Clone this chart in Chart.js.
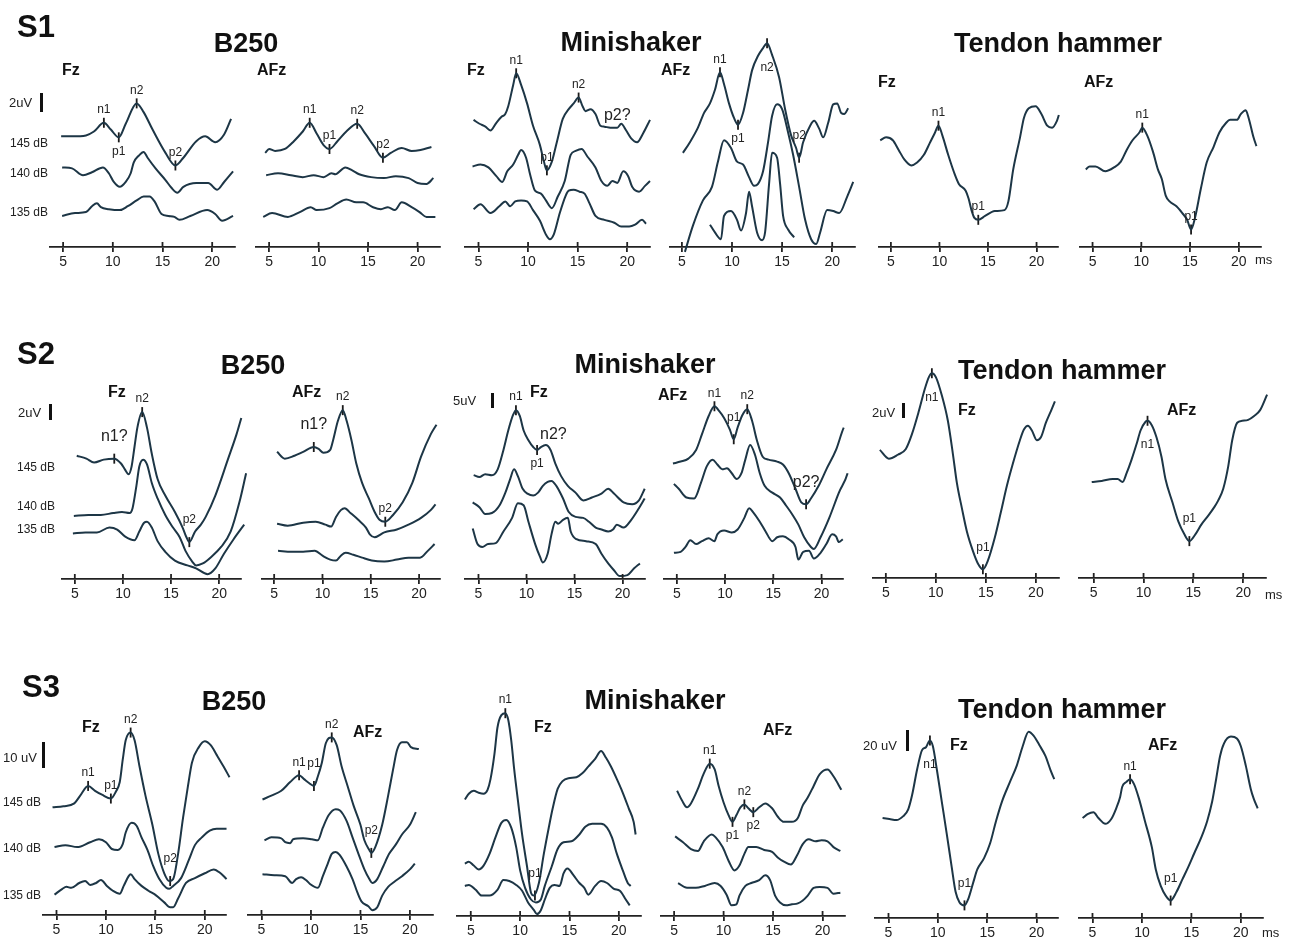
<!DOCTYPE html>
<html>
<head>
<meta charset="utf-8">
<script src="https://cdn.jsdelivr.net/npm/chart.js@4.4.1/dist/chart.umd.min.js"></script>
<style>
  body { margin: 0; width: 1290px; height: 942px; position: relative; overflow: hidden; background: #fff;
         font-family: "Liberation Sans", Arial, sans-serif; color: #111; }
  canvas { position: absolute; }
  .t { position: absolute; white-space: nowrap; line-height: 1; z-index: 2; }
  .big { font-weight: bold; font-size: 31px; }
  .title { font-weight: bold; font-size: 27px; }
  .ch { font-weight: bold; font-size: 16px; }
  .unit { font-size: 13px; color: #222; }
  .db { font-size: 12px; color: #222; }
  .bar { position: absolute; width: 3px; background: #111; }
</style>
</head>
<body>
<script>
// x ticks (ms) shared by every panel
const tickValues = [5, 10, 15, 20];

// traces: [latency ms, amplitude above the time axis (a.u.)]
// ---------- S1 ----------
const s1B250Fz145 = [[4.8,114],[5.9,114],[7.3,115],[8.1,119],[9.1,128],[9.8,121],[10.6,113],[11.3,127],[12.4,148],[13.1,139],[14,121],[15.3,97],[16.3,84],[17.1,92],[18.4,109],[19.3,114],[20.3,108],[21.2,116],[21.9,132]];
const s1B250Fz140 = [[4.9,82],[5.9,81],[7.0,74],[7.9,77],[9.0,82],[9.6,76],[10.1,67],[10.7,62],[11.3,67],[11.8,76],[12.1,87],[12.6,94],[13.1,98],[13.5,92],[14.3,81],[15.3,69],[15.9,61],[16.5,56],[17.1,62],[18.4,66],[19.6,66],[20.5,59],[21.2,67],[22.1,78]];
const s1B250Fz135 = [[4.9,32],[6.2,35],[7.3,36],[7.9,42],[8.4,45],[8.8,41],[9.6,39],[10.7,38],[11.5,42],[12.4,48],[13.1,52],[13.7,52],[14.2,47],[14.9,34],[15.6,32],[16.2,31],[16.7,28],[17.8,32],[19.5,38],[20.3,34],[21.0,27],[22.1,32]];
const s1B250FzMarks = [['n1',9.1,128,'up'],['p1',10.6,113,'down'],['n2',12.4,148,'up'],['p2',16.3,84,'up']];

const s1B250AFz145 = [[4.6,97],[5.0,101],[5.6,99],[6.6,101],[7.5,109],[8.4,119],[9.1,128],[9.8,117],[10.5,105],[11.1,101],[11.9,109],[12.8,119],[13.9,127],[14.7,117],[15.6,104],[16.5,92],[17.3,97],[18.4,102],[19.4,99],[20.3,100],[21.4,103]];
const s1B250AFz140 = [[4.7,74],[5.9,76],[7.2,74],[8.4,72],[9.5,74],[10.5,72],[11.3,76],[11.7,75],[12.7,82],[13.4,79],[14.1,75],[15.3,72],[16.6,71],[17.8,73],[19.1,71],[20.0,66],[20.9,65],[21.6,71]];
const s1B250AFz135 = [[4.4,31],[5.3,35],[6.9,31],[8.1,36],[9.2,41],[9.8,38],[11.1,40],[11.9,45],[12.8,49],[13.8,46],[14.5,46],[15.5,41],[16.3,39],[17.0,41],[17.7,38],[18.4,46],[19.4,41],[20.2,36],[20.9,31],[21.8,31]];
const s1B250AFzMarks = [['n1',9.1,128,'up'],['p1',11.1,101,'up'],['n2',13.9,127,'up'],['p2',16.5,92,'up']];

const s1MiniFz145 = [[4.5,131],[5.1,127],[5.7,124],[6.2,120],[6.8,128],[7.3,134],[7.7,137],[8.0,145],[8.5,167],[8.8,179],[9.3,167],[9.9,148],[10.5,125],[11.2,105],[11.6,88],[11.9,79],[12.4,88],[12.9,108],[13.5,132],[14.1,142],[14.6,148],[15.1,154],[15.5,145],[15.8,140],[16.3,142],[16.8,137],[17.3,125],[17.7,124],[18.3,123],[19.0,123],[19.4,127],[19.9,120],[20.4,112],[21.0,108],[21.6,117],[22.3,131]];
const s1MiniFz140 = [[4.4,83],[5.2,85],[6.0,82],[6.8,73],[7.4,67],[7.9,78],[8.5,85],[9.0,95],[9.3,100],[9.8,92],[10.2,75],[10.7,58],[11.3,55],[11.8,48],[12.4,40],[13.0,52],[13.7,68],[14.3,95],[14.8,99],[15.4,101],[16.0,93],[16.8,82],[17.4,68],[18.0,63],[18.5,68],[19.0,66],[19.6,78],[20.1,73],[20.5,62],[21.2,57],[21.8,63],[22.3,68]];
const s1MiniFz135 = [[4.5,39],[5.2,44],[6.2,35],[7.1,42],[7.7,47],[8.2,42],[8.7,47],[9.3,48],[9.9,47],[10.5,38],[11.2,27],[11.8,13],[12.2,8],[12.6,13],[13.2,35],[13.8,53],[14.1,58],[14.6,59],[15.2,57],[15.7,55],[16.2,45],[16.8,32],[17.7,28],[18.7,25],[19.4,21],[20.2,21],[20.8,23],[21.5,28],[21.9,24]];
const s1MiniFzMarks = [['n1',8.8,179,'up'],['p1',11.9,79,'up'],['n2',15.1,154,'up'],['p2?',19.0,135,'at']];

const s1MiniAFz145 = [[5.1,97],[5.8,108],[6.6,123],[7.2,138],[7.8,148],[8.3,162],[8.8,180],[9.2,168],[9.7,148],[10.2,133],[10.6,126],[11.1,138],[11.6,162],[12.0,182],[12.6,197],[13.1,205],[13.5,210],[14.0,198],[14.7,175],[15.3,142],[15.9,115],[16.4,102],[16.7,92],[17.1,108],[17.8,125],[18.2,130],[18.7,122],[19.1,113],[19.6,128],[20.1,147],[20.5,148],[20.9,138],[21.2,137],[21.6,143]];
const s1MiniAFz140 = [[5.3,-5],[6.1,22],[7.1,48],[8.0,62],[8.6,88],[9.2,110],[9.9,102],[10.5,88],[11.1,85],[11.7,72],[12.2,63],[12.6,65],[13.1,78],[13.6,108],[14.0,135],[14.5,147],[15.0,142],[15.6,118],[16.1,95],[16.7,62],[17.3,28],[17.9,8],[18.4,3],[18.8,15],[19.5,38],[20.1,37],[20.7,35],[21.5,52],[22.1,67]];
const s1MiniAFz135 = [[7.8,23],[8.3,15],[8.9,8],[9.2,32],[9.9,37],[10.5,28],[10.9,17],[11.4,35],[11.7,57],[12.0,42],[12.5,15],[13.0,7],[13.3,15],[13.7,65],[14.0,97],[14.5,92],[14.8,65],[15.1,32],[15.6,18],[16.2,10]];
const s1MiniAFzMarks = [['n1',8.8,180,'up'],['p1',10.6,126,'down'],['n2',13.5,210,'downfar'],['p2',16.7,92,'upfar']];

const s1TendonFz = [[3.9,110],[4.5,113],[5.2,110],[5.8,100],[6.4,90],[7.1,84],[7.7,87],[8.4,95],[9.0,107],[9.5,117],[9.9,125],[10.3,115],[10.9,95],[11.5,77],[12.0,65],[12.7,58],[13.0,50],[13.3,38],[13.6,30],[14.0,28],[14.7,32],[15.7,37],[16.7,38],[17.1,47],[17.6,80],[18.3,113],[18.7,133],[19.2,143],[19.9,145],[20.5,137],[21.1,125],[21.6,123],[22.1,130],[22.3,136]];
const s1TendonFzMarks = [['n1',9.9,125,'up'],['p1',14.0,28,'up']];

const s1TendonAFz = [[4.3,80],[4.7,83],[5.3,83],[6.3,78],[7.2,82],[7.9,88],[8.5,100],[9.1,110],[9.8,118],[10.1,123],[10.6,115],[11.2,98],[11.7,80],[12.1,70],[12.5,53],[12.9,47],[13.6,42],[14.2,35],[14.7,28],[15.1,18],[15.5,30],[16.1,60],[16.7,87],[17.4,103],[18.0,118],[18.7,128],[19.1,131],[19.8,131],[20.2,137],[20.7,141],[21.0,133],[21.5,113],[21.8,104]];
const s1TendonAFzMarks = [['n1',10.1,123,'up'],['p1',15.1,18,'up']];

// ---------- S2 ----------
const s2B250Fz145 = [[5.2,127],[6.2,124],[7.0,120],[8.0,123],[9.1,124],[9.8,119],[10.2,113],[10.6,108],[10.9,116],[11.2,136],[11.5,156],[12.0,172],[12.5,156],[13.0,129],[13.6,103],[14.4,86],[15.4,69],[16.2,53],[16.6,43],[16.9,38],[17.5,49],[18.1,56],[18.6,64],[19.6,86],[20.9,123],[21.8,149],[22.3,166]];
const s2B250Fz140 = [[4.9,65],[6.4,66],[7.7,66],[9.0,68],[9.9,69],[10.7,68],[11.0,73],[11.4,96],[11.7,116],[12.1,123],[12.5,118],[13.0,99],[13.6,83],[14.4,66],[15.2,53],[15.9,43],[16.5,29],[17.2,18],[17.6,14],[18.3,16],[19.2,23],[20.2,33],[21.2,49],[22.1,79],[22.8,109]];
const s2B250Fz135 = [[4.8,47],[6.1,48],[7.3,48],[8.6,53],[9.4,51],[10.2,44],[11.2,40],[11.7,49],[12.2,58],[12.5,59],[13.0,53],[13.6,39],[14.4,28],[15.4,19],[16.7,14],[17.6,11],[18.8,5],[19.6,11],[20.5,26],[21.5,41],[22.6,56]];
const s2B250FzMarks = [['n1?',9.1,124,'upfar'],['n2',12.0,172,'up'],['p2',16.9,38,'upfar']];

const s2B250AFz145 = [[5.3,131],[6.1,124],[7.1,127],[8.0,131],[9.1,136],[9.6,134],[10.1,130],[10.8,133],[11.1,143],[11.6,163],[12.1,174],[12.5,163],[13.0,143],[13.5,119],[14.1,99],[14.8,83],[15.4,69],[15.9,61],[16.5,59],[17.3,66],[18.3,79],[19.3,99],[20.2,126],[21.2,149],[21.8,159]];
const s2B250AFz140 = [[5.3,57],[6.4,55],[8.0,58],[9.3,59],[10.3,56],[10.9,54],[11.4,64],[11.9,71],[12.3,73],[12.9,68],[13.7,61],[14.5,53],[14.9,46],[15.4,43],[16.4,48],[17.7,51],[18.9,56],[20.2,63],[21.2,71],[21.7,77]];
const s2B250AFz135 = [[5.4,29],[6.8,28],[8.0,28],[9.2,29],[10.0,24],[10.8,20],[11.4,19],[11.9,24],[12.4,27],[13.2,25],[14.1,22],[15.1,19],[16.4,18],[17.7,20],[18.9,22],[20.1,22],[20.9,29],[21.6,36]];
const s2B250AFzMarks = [['n1?',9.1,136,'upfar'],['n2',12.1,174,'up'],['p2',16.5,59,'up']];

const s2MiniFz145 = [[4.5,107],[5.1,105],[5.7,108],[6.4,107],[7.0,113],[7.6,133],[8.1,153],[8.6,169],[8.9,174],[9.3,168],[9.7,153],[10.2,143],[10.7,136],[11.1,133],[11.5,136],[12.0,138],[12.5,133],[13.0,119],[13.6,106],[14.3,96],[15.1,89],[15.9,81],[16.8,84],[17.8,88],[18.5,93],[19.1,88],[20.1,79],[21.0,77],[21.7,81],[22.3,93]];
const s2MiniFz140 = [[4.4,79],[5.1,74],[5.7,67],[6.4,68],[7.2,76],[7.8,89],[8.3,103],[8.7,113],[9.1,106],[9.6,93],[10.1,88],[10.7,86],[11.2,89],[11.7,96],[12.2,100],[12.6,101],[13.1,96],[13.8,83],[14.4,69],[15.1,64],[15.9,63],[16.5,59],[17.2,53],[17.8,51],[18.5,49],[19.0,51],[19.4,56],[20.1,53],[20.9,61],[21.7,73],[22.3,83]];
const s2MiniFz135 = [[4.4,52],[4.9,36],[5.4,33],[6.0,36],[6.8,37],[7.6,49],[8.5,63],[9.1,78],[9.7,76],[10.2,59],[10.9,36],[11.4,23],[11.7,17],[12.2,26],[12.6,46],[13.0,59],[13.3,57],[13.8,61],[14.3,63],[14.6,49],[15.2,41],[16.2,39],[17.2,36],[17.8,26],[18.5,16],[19.1,9],[19.7,3],[20.5,4],[21.2,11],[21.8,16]];
const s2MiniFzMarks = [['n1',8.9,174,'up'],['p1',11.1,133,'down'],['n2?',12.8,149,'at']];

const s2MiniAFz145 = [[4.6,119],[5.4,121],[6.2,124],[7.0,133],[7.6,149],[8.3,168],[8.9,178],[9.4,173],[9.9,166],[10.5,154],[10.9,144],[11.3,156],[11.8,169],[12.3,175],[12.8,163],[13.3,143],[13.9,126],[14.5,123],[15.4,121],[16.0,118],[16.6,109],[17.3,93],[17.9,79],[18.4,77],[18.9,83],[19.7,96],[20.5,113],[21.5,133],[22.3,156],[23.1,168]];
const s2MiniAFz140 = [[4.7,98],[5.2,93],[6.0,84],[6.8,83],[7.5,99],[8.1,116],[8.7,123],[9.2,118],[9.7,113],[10.2,114],[10.7,109],[11.2,103],[11.7,109],[12.1,123],[12.6,138],[13.1,128],[13.6,109],[14.1,96],[14.9,89],[15.7,84],[16.3,76],[17.0,66],[17.6,56],[18.2,43],[18.9,33],[19.2,31],[19.9,43],[20.8,63],[21.8,89],[22.7,109],[23.2,133]];
const s2MiniAFz135 = [[4.7,27],[5.4,28],[5.9,33],[6.4,40],[7.0,36],[7.6,39],[8.3,42],[8.9,39],[9.2,46],[9.9,50],[10.7,48],[11.3,51],[12.0,63],[12.5,73],[12.9,69],[13.6,59],[14.2,49],[14.9,39],[15.4,43],[16.0,44],[16.6,41],[17.3,33],[17.6,20],[18.1,28],[18.7,29],[19.2,21],[19.9,27],[20.5,36],[21.1,46],[21.5,44],[21.8,38],[22.2,41]];
const s2MiniAFzMarks = [['n1',8.9,178,'up'],['p1',10.9,144,'upfar'],['n2',12.3,175,'up'],['p2?',18.4,77,'upfar']];

const s2TendonFz = [[4.4,132],[5.3,123],[6.2,127],[7.0,133],[7.6,148],[8.3,172],[8.9,195],[9.3,207],[9.6,211],[10.0,207],[10.6,188],[11.2,162],[11.7,128],[12.1,98],[12.6,72],[13.1,48],[13.7,28],[14.2,15],[14.7,9],[15.2,18],[15.9,42],[16.5,68],[17.1,95],[17.7,118],[18.4,142],[18.8,153],[19.2,157],[19.6,152],[20.1,142],[20.5,145],[21.0,160],[21.5,172],[21.9,182]];
const s2TendonFzMarks = [['n1',9.6,211,'downfar'],['p1',14.7,9,'upfar']];

const s2TendonAFz = [[4.8,99],[5.8,100],[6.9,102],[7.4,102],[7.9,99],[8.3,108],[8.8,122],[9.3,138],[9.7,152],[10.2,161],[10.4,162],[10.8,158],[11.3,145],[11.8,125],[12.2,102],[12.9,78],[13.5,58],[14.1,45],[14.6,38],[15.2,45],[15.8,55],[16.4,63],[17.1,73],[17.5,80],[18.0,92],[18.5,115],[18.9,142],[19.4,160],[19.9,162],[20.5,163],[21.1,167],[21.7,173],[22.4,189]];
const s2TendonAFzMarks = [['n1',10.4,162,'downfar'],['p1',14.6,38,'upfar']];

// ---------- S3 ----------
const s3B250Fz145 = [[4.6,111],[5.7,112],[6.8,115],[7.4,123],[8.2,133],[8.9,128],[9.6,124],[10.5,120],[11.0,127],[11.4,137],[11.7,160],[12.0,180],[12.5,188],[12.9,180],[13.4,153],[14.0,123],[14.7,93],[15.3,63],[15.9,43],[16.4,35],[16.8,37],[17.3,63],[17.8,100],[18.3,133],[18.7,157],[19.4,173],[20.0,179],[20.6,175],[21.2,165],[21.9,153],[22.5,142]];
const s3B250Fz140 = [[4.8,70],[5.9,72],[7.1,70],[8.4,75],[9.3,78],[10.0,75],[10.6,68],[11.2,67],[11.7,73],[12.0,85],[12.6,95],[13.1,92],[13.6,80],[14.2,67],[14.8,50],[15.4,37],[16.1,28],[16.4,27],[16.8,30],[17.6,38],[18.4,57],[19.0,72],[19.7,80],[20.5,87],[21.2,89],[22.2,89]];
const s3B250Fz135 = [[4.8,21],[5.6,27],[6.0,29],[6.5,28],[7.3,33],[7.9,35],[8.4,31],[9.0,33],[9.5,36],[10.1,30],[10.7,25],[11.4,22],[11.8,30],[12.3,40],[12.5,42],[12.9,37],[13.6,30],[14.3,25],[15.1,20],[15.9,13],[16.5,8],[16.8,8],[17.3,17],[18.1,33],[19.0,38],[20.0,43],[20.9,47],[21.6,43],[22.2,37]];
const s3B250FzMarks = [['n1',8.2,133,'up'],['p1',10.5,120,'up'],['n2',12.5,188,'up'],['p2',16.5,35,'upfar']];

const s3B250AFz145 = [[5.1,119],[6.0,123],[7.0,128],[7.9,137],[8.8,144],[9.3,140],[9.8,136],[10.3,133],[10.7,143],[11.1,157],[11.5,177],[12.1,183],[12.6,175],[13.1,153],[13.7,133],[14.3,113],[15.0,93],[15.4,77],[15.9,67],[16.1,64],[16.5,70],[17.2,93],[17.8,123],[18.3,150],[18.7,170],[19.2,178],[19.7,178],[20.1,173],[20.9,171]];
const s3B250AFz140 = [[5.3,77],[6.0,80],[7.0,79],[7.4,75],[7.9,74],[8.2,78],[9.2,79],[10.1,78],[10.7,77],[11.2,90],[11.8,103],[12.5,109],[12.9,108],[13.6,97],[14.2,80],[14.8,63],[15.4,47],[15.9,37],[16.2,33],[16.7,37],[17.3,50],[17.9,63],[18.6,73],[19.2,83],[20.0,93],[20.6,106]];
const s3B250AFz135 = [[5.1,42],[6.3,41],[7.4,40],[8.1,33],[8.5,37],[9.0,39],[9.5,36],[9.9,32],[10.7,28],[11.2,40],[11.7,53],[12.1,63],[12.5,65],[12.9,62],[13.6,50],[14.2,37],[14.7,23],[15.1,14],[15.8,9],[16.2,5],[16.7,8],[17.2,20],[17.8,29],[18.4,34],[19.2,40],[20.0,47],[20.5,53]];
const s3B250AFzMarks = [['n1',8.8,144,'up'],['p1',10.3,133,'upfar'],['n2',12.1,183,'up'],['p2',16.1,64,'upfar']];

const s3MiniFz145 = [[4.4,120],[4.8,126],[5.3,129],[5.8,127],[6.3,126],[6.7,130],[7.0,141],[7.4,167],[7.7,194],[8.1,207],[8.5,209],[8.8,202],[9.1,181],[9.4,151],[9.8,117],[10.2,84],[10.7,51],[11.1,24],[11.4,21],[11.9,34],[12.4,64],[12.9,91],[13.3,111],[13.8,131],[14.3,139],[14.9,142],[15.7,143],[16.3,147],[16.9,154],[17.6,162],[18.2,170],[18.7,163],[19.2,154],[19.8,141],[20.4,127],[21.0,111],[21.5,97],[21.7,84]];
const s3MiniFz140 = [[4.4,54],[4.8,56],[5.3,52],[5.8,48],[6.3,52],[6.9,64],[7.5,81],[8.1,96],[8.6,99],[9.1,91],[9.6,71],[10.0,47],[10.5,29],[11.1,17],[11.6,14],[12.1,17],[12.5,31],[13.2,51],[13.8,69],[14.4,76],[15.2,77],[16.0,84],[16.6,92],[17.3,95],[18.2,95],[18.8,91],[19.3,81],[19.8,64],[20.4,47],[20.9,34],[21.2,31]];
const s3MiniFz135 = [[4.4,31],[4.8,32],[5.5,27],[6.1,21],[6.9,21],[7.7,27],[8.3,37],[8.9,36],[9.6,32],[10.2,26],[10.8,14],[11.4,6],[11.7,2],[12.1,6],[12.5,17],[13.0,29],[13.5,32],[14.0,31],[14.4,44],[14.8,49],[15.4,42],[16.0,34],[16.5,29],[16.9,22],[17.6,31],[18.2,36],[18.8,34],[19.5,28],[20.1,26],[20.7,17],[21.1,11]];
const s3MiniFzMarks = [['n1',8.5,209,'up'],['p1',11.5,21,'upfar']];

const s3MiniAFz145 = [[5.3,129],[5.8,119],[6.3,112],[6.7,116],[7.4,131],[8.0,147],[8.6,157],[9.1,151],[9.5,134],[10.0,117],[10.5,104],[10.9,97],[11.3,104],[11.7,112],[12.1,115],[12.5,111],[13.0,107],[13.6,112],[14.2,116],[14.9,111],[15.5,102],[16.1,97],[16.9,97],[17.5,101],[18.0,114],[18.5,122],[19.1,134],[19.7,146],[20.5,151],[21.1,144],[21.9,130]];
const s3MiniAFz140 = [[5.1,82],[5.9,76],[6.7,69],[7.4,67],[8.0,77],[8.8,84],[9.2,81],[9.9,71],[10.5,57],[11.1,47],[11.6,52],[12.1,64],[12.5,71],[13.3,71],[14.1,68],[14.9,66],[15.5,60],[16.1,56],[16.8,53],[17.4,62],[18.0,74],[18.6,79],[19.3,77],[19.9,78],[20.5,77],[21.1,71],[21.8,67]];
const s3MiniAFz135 = [[5.4,34],[6.3,29],[7.2,29],[8.1,31],[9.1,34],[9.7,31],[10.3,22],[10.8,11],[11.3,12],[11.6,21],[12.2,31],[12.8,34],[13.6,37],[14.2,42],[14.7,37],[15.2,21],[15.7,14],[16.3,11],[16.9,12],[17.5,13],[18.0,16],[18.5,21],[19.1,29],[19.7,30],[20.5,29],[21.1,23],[21.8,24]];
const s3MiniAFzMarks = [['n1',8.6,157,'up'],['p1',10.9,97,'down'],['n2',12.1,115,'up'],['p2',13.0,107,'down']];

const s3TendonFz = [[4.4,103],[5.1,102],[5.8,101],[6.5,105],[7.0,112],[7.4,127],[7.9,153],[8.4,173],[8.8,176],[9.2,183],[9.5,177],[9.9,153],[10.4,120],[10.9,87],[11.4,53],[11.8,27],[12.2,16],[12.7,13],[13.1,20],[13.6,37],[14.0,50],[14.7,62],[15.3,77],[15.9,100],[16.5,120],[17.3,140],[18.0,157],[18.6,177],[19.2,192],[19.7,188],[20.3,178],[20.9,167],[21.4,153],[21.8,143]];
const s3TendonFzMarks = [['n1',9.2,183,'downfar'],['p1',12.7,13,'upfar']];

const s3TendonAFz = [[4.0,103],[4.5,107],[5.1,109],[5.6,103],[6.3,97],[6.9,102],[7.4,113],[7.8,125],[8.0,135],[8.4,140],[8.8,143],[9.2,138],[9.7,123],[10.3,100],[11.0,73],[11.4,50],[11.9,33],[12.4,23],[12.9,18],[13.5,27],[14.1,40],[14.7,53],[15.3,67],[16.0,83],[16.6,100],[17.1,120],[17.5,143],[17.9,167],[18.3,180],[19.0,187],[19.6,185],[20.0,177],[20.5,157],[21.0,133],[21.3,123],[21.7,113]];
const s3TendonAFzMarks = [['n1',8.8,143,'up'],['p1',12.9,18,'upfar']];

// ---------- layout ----------
// box: [axis left px, axis right px, px of 5 ms tick, px of 20 ms tick, axis y px]
const panels = [
  { traces: [s1B250Fz145, s1B250Fz140, s1B250Fz135], marks: s1B250FzMarks, box: [43, 242, 57.3, 217.3, 247] },
  { traces: [s1B250AFz145, s1B250AFz140, s1B250AFz135], marks: s1B250AFzMarks, box: [249, 447, 263.3, 422.7, 247] },
  { traces: [s1MiniFz145, s1MiniFz140, s1MiniFz135], marks: s1MiniFzMarks, box: [458, 657, 472.7, 632.3, 247] },
  { traces: [s1MiniAFz145, s1MiniAFz140, s1MiniAFz135], marks: s1MiniAFzMarks, box: [663, 862, 676, 837.3, 247] },
  { traces: [s1TendonFz], marks: s1TendonFzMarks, box: [872, 1065, 885, 1041.7, 247] },
  { traces: [s1TendonAFz], marks: s1TendonAFzMarks, box: [1073, 1268, 1086.7, 1244, 247] },

  { traces: [s2B250Fz145, s2B250Fz140, s2B250Fz135], marks: s2B250FzMarks, box: [55, 248, 69, 224.3, 579] },
  { traces: [s2B250AFz145, s2B250AFz140, s2B250AFz135], marks: s2B250AFzMarks, box: [255, 447, 268.3, 424.3, 579] },
  { traces: [s2MiniFz145, s2MiniFz140, s2MiniFz135], marks: s2MiniFzMarks, box: [458, 652, 472.7, 627.7, 579] },
  { traces: [s2MiniAFz145, s2MiniAFz140, s2MiniAFz135], marks: s2MiniAFzMarks, box: [657, 850, 671, 826.7, 579] },
  { traces: [s2TendonFz], marks: s2TendonFzMarks, box: [866, 1066, 880, 1041, 578] },
  { traces: [s2TendonAFz], marks: s2TendonAFzMarks, box: [1072, 1273, 1088, 1248.3, 578] },

  { traces: [s3B250Fz145, s3B250Fz140, s3B250Fz135], marks: s3B250FzMarks, box: [36, 233, 50.7, 210, 915] },
  { traces: [s3B250AFz145, s3B250AFz140, s3B250AFz135], marks: s3B250AFzMarks, box: [241, 440, 255.7, 415, 915] },
  { traces: [s3MiniFz145, s3MiniFz140, s3MiniFz135], marks: s3MiniFzMarks, box: [450, 648, 465, 624, 916] },
  { traces: [s3MiniAFz145, s3MiniAFz140, s3MiniAFz135], marks: s3MiniAFzMarks, box: [654, 852, 668.3, 827.7, 916] },
  { traces: [s3TendonFz], marks: s3TendonFzMarks, box: [868, 1065, 882.7, 1041.7, 918] },
  { traces: [s3TendonAFz], marks: s3TendonAFzMarks, box: [1072, 1270, 1086.7, 1246, 918] },
];

// [text, x, y, class, align]
const texts = [
  ['S1', 17, 26, 'big', 'l'], ['B250', 246, 43, 'title', 'c'], ['Minishaker', 631, 42, 'title', 'c'], ['Tendon hammer', 1058, 43, 'title', 'c'],
  ['Fz', 62, 70, 'ch', 'l'], ['AFz', 257, 70, 'ch', 'l'], ['Fz', 467, 70, 'ch', 'l'], ['AFz', 661, 70, 'ch', 'l'], ['Fz', 878, 82, 'ch', 'l'], ['AFz', 1084, 82, 'ch', 'l'],
  ['2uV', 9, 102, 'unit', 'l'], ['145 dB', 10, 143, 'db', 'l'], ['140 dB', 10, 173, 'db', 'l'], ['135 dB', 10, 212, 'db', 'l'], ['ms', 1255, 259, 'unit', 'l'],

  ['S2', 17, 353, 'big', 'l'], ['B250', 253, 365, 'title', 'c'], ['Minishaker', 645, 364, 'title', 'c'], ['Tendon hammer', 1062, 370, 'title', 'c'],
  ['Fz', 108, 392, 'ch', 'l'], ['AFz', 292, 392, 'ch', 'l'], ['Fz', 530, 392, 'ch', 'l'], ['AFz', 658, 395, 'ch', 'l'], ['Fz', 958, 410, 'ch', 'l'], ['AFz', 1167, 410, 'ch', 'l'],
  ['2uV', 18, 412, 'unit', 'l'], ['5uV', 453, 400, 'unit', 'l'], ['2uV', 872, 412, 'unit', 'l'],
  ['145 dB', 17, 467, 'db', 'l'], ['140 dB', 17, 506, 'db', 'l'], ['135 dB', 17, 529, 'db', 'l'], ['ms', 1265, 594, 'unit', 'l'],

  ['S3', 22, 686, 'big', 'l'], ['B250', 234, 701, 'title', 'c'], ['Minishaker', 655, 700, 'title', 'c'], ['Tendon hammer', 1062, 709, 'title', 'c'],
  ['Fz', 82, 727, 'ch', 'l'], ['AFz', 353, 732, 'ch', 'l'], ['Fz', 534, 727, 'ch', 'l'], ['AFz', 763, 730, 'ch', 'l'], ['Fz', 950, 745, 'ch', 'l'], ['AFz', 1148, 745, 'ch', 'l'],
  ['10 uV', 3, 757, 'unit', 'l'], ['20 uV', 863, 745, 'unit', 'l'],
  ['145 dB', 3, 802, 'db', 'l'], ['140 dB', 3, 848, 'db', 'l'], ['135 dB', 3, 895, 'db', 'l'], ['ms', 1262, 932, 'unit', 'l'],
];

// amplitude scale bars: [x, top, bottom]
const scaleBars = [[41, 93, 112], [50, 404, 420], [492, 393, 408], [903, 403, 418], [43, 742, 768], [907, 730, 751]];

const Y_SPAN = 230, AXIS_H = 28;
const INK = '#1d3646';
const FONT = '"Liberation Sans", Arial, sans-serif';
const LABEL_OFFSET = { up: -13, down: 14, upfar: -22, downfar: 24, at: 0 };

texts.forEach(([txt, x, y, cls, align]) => {
  const d = document.createElement('div');
  d.className = 't ' + cls;
  d.textContent = txt;
  d.style.left = x + 'px';
  d.style.top = y + 'px';
  d.style.transform = align === 'c' ? 'translate(-50%,-50%)' : 'translateY(-50%)';
  document.body.appendChild(d);
});

scaleBars.forEach(([x, y1, y2]) => {
  const b = document.createElement('div');
  b.className = 'bar';
  b.style.left = (x - 1) + 'px';
  b.style.top = y1 + 'px';
  b.style.height = (y2 - y1) + 'px';
  document.body.appendChild(b);
});

// upper half of the tick marks that cross the time axis
const crossTicks = {
  id: 'crossTicks',
  afterDraw(chart) {
    const { ctx } = chart;
    const s = chart.scales.x;
    ctx.save();
    ctx.strokeStyle = '#222';
    ctx.lineWidth = 1.8;
    tickValues.forEach(v => {
      const px = s.getPixelForValue(v);
      ctx.beginPath();
      ctx.moveTo(px, s.top);
      ctx.lineTo(px, s.top - 5);
      ctx.stroke();
    });
    ctx.restore();
  }
};

// n1 / p1 / n2 / p2 labels next to the peak markers
const peakLabels = {
  id: 'peakLabels',
  afterDatasetsDraw(chart, args, opts) {
    const { ctx } = chart;
    const meta = chart.getDatasetMeta(chart.data.datasets.length - 1);
    ctx.save();
    ctx.fillStyle = '#222';
    ctx.textAlign = 'center';
    ctx.textBaseline = 'middle';
    meta.data.forEach((pt, i) => {
      const [txt, , , place] = opts.marks[i];
      ctx.font = (txt.endsWith('?') ? '16px ' : '12px ') + FONT;
      ctx.fillText(txt, pt.x, pt.y + LABEL_OFFSET[place]);
    });
    ctx.restore();
  }
};

panels.forEach(p => {
  const [left, right, t5, t20, axisY] = p.box;
  const w = right - left, h = Y_SPAN + AXIS_H;
  const cv = document.createElement('canvas');
  cv.width = w; cv.height = h;
  cv.style.left = left + 'px';
  cv.style.top = (axisY - Y_SPAN) + 'px';
  cv.style.width = w + 'px';
  cv.style.height = h + 'px';
  document.body.appendChild(cv);

  const pxPerMs = (t20 - t5) / 15;
  const xMin = 5 - (t5 - left) / pxPerMs;
  const xMax = 20 + (right - t20) / pxPerMs;

  const datasets = p.traces.map(tr => ({
    type: 'line',
    data: tr.map(([x, y]) => ({ x, y })),
    borderColor: INK,
    borderWidth: 2,
    pointRadius: 0,
    cubicInterpolationMode: 'monotone',
    fill: false,
    clip: false,
  }));
  datasets.push({
    type: 'scatter',
    data: p.marks.map(m => ({ x: m[1], y: m[2] })),
    pointStyle: 'line',
    rotation: 90,
    pointRadius: ctx => (p.marks[ctx.dataIndex][3] === 'at' ? 0 : 5),
    borderColor: '#1a1a1a',
    borderWidth: 1.8,
    clip: false,
  });

  new Chart(cv.getContext('2d'), {
    type: 'line',
    data: { datasets },
    options: {
      responsive: false,
      animation: false,
      devicePixelRatio: 1,
      events: [],
      layout: { padding: 0 },
      plugins: { legend: { display: false }, tooltip: { enabled: false }, peakLabels: { marks: p.marks } },
      scales: {
        x: {
          type: 'linear', min: xMin, max: xMax,
          afterBuildTicks: s => { s.ticks = tickValues.map(v => ({ value: v })); },
          afterFit: s => { s.height = AXIS_H; },
          border: { display: true, color: '#222', width: 1.8 },
          grid: { drawOnChartArea: false, drawTicks: true, tickLength: 5, color: '#222', lineWidth: 1.8 },
          ticks: { color: '#222', font: { family: FONT, size: 14 }, padding: 2, autoSkip: false, maxRotation: 0 }
        },
        y: { display: false, min: 0, max: Y_SPAN }
      }
    },
    plugins: [crossTicks, peakLabels]
  });
});
</script>
</body>
</html>
